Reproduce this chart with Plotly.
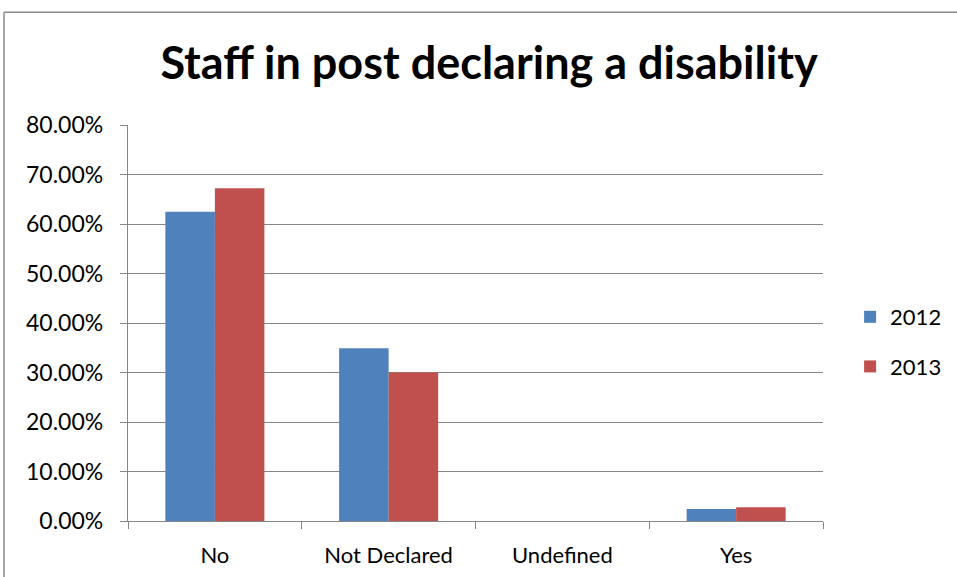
import plotly.graph_objects as go

categories = ["No", "Not Declared", "Undefined", "Yes"]
series_2012 = [0.625, 0.349, 0.0, 0.024]
series_2013 = [0.672, 0.300, 0.0, 0.028]
tick_values = [0.0, 0.1, 0.2, 0.3, 0.4, 0.5, 0.6, 0.7, 0.8]

FONT = "Lato"
GRID = "#868686"

fig = go.Figure()
fig.add_trace(go.Bar(x=categories, y=series_2012, name="2012",
                     marker=dict(color="#4F81BD", line=dict(width=0)),
                     legendgroup="a"))
fig.add_trace(go.Bar(x=categories, y=series_2013, name="2013",
                     marker=dict(color="#C0504D", line=dict(width=0)),
                     legendgroup="b"))

fig.update_layout(
    width=957, height=577,
    margin=dict(l=128, r=134, t=125, b=56, autoexpand=False),
    paper_bgcolor="white", plot_bgcolor="white",
    font=dict(family=FONT, color="black", size=22),
    title=dict(text="<b>Staff in post declaring a disability</b>",
               font=dict(family=FONT, size=45, color="black"),
               x=0.511, xanchor="center", y=0.89, yanchor="middle"),
    barmode="group", bargap=0.43, bargroupgap=0,
    legend=dict(x=1.039, xanchor="left", y=0.452, yanchor="middle",
                traceorder="grouped", tracegroupgap=18,
                font=dict(family=FONT, size=22, color="black")),
    xaxis=dict(type="category", showgrid=False, showline=True,
               linecolor=GRID, linewidth=1.3, ticks="outside",
               tickson="boundaries", ticklen=7, tickcolor=GRID,
               ticklabelstandoff=14,
               tickfont=dict(family=FONT, size=22, color="black")),
    yaxis=dict(range=[0, 0.8], tickvals=tick_values, tickformat=".2%",
               showgrid=True, gridcolor=GRID, gridwidth=1.3,
               showline=True, linecolor=GRID, linewidth=1.3,
               ticks="outside", ticklen=7, tickcolor=GRID,
               ticklabelstandoff=12, zeroline=False,
               tickfont=dict(family=FONT, size=23, color="black")),
)

# chart-area frame (left and top edges)
fig.add_shape(type="line", xref="paper", yref="paper",
              x0=-0.1784, x1=-0.1784, y0=-0.3, y1=1.285,
              line=dict(color="#8a8a8a", width=1.5))
fig.add_shape(type="line", xref="paper", yref="paper",
              x0=-0.1784, x1=1.3, y0=1.285, y1=1.285,
              line=dict(color="#8a8a8a", width=1.5))

fig.write_html("out.html")
